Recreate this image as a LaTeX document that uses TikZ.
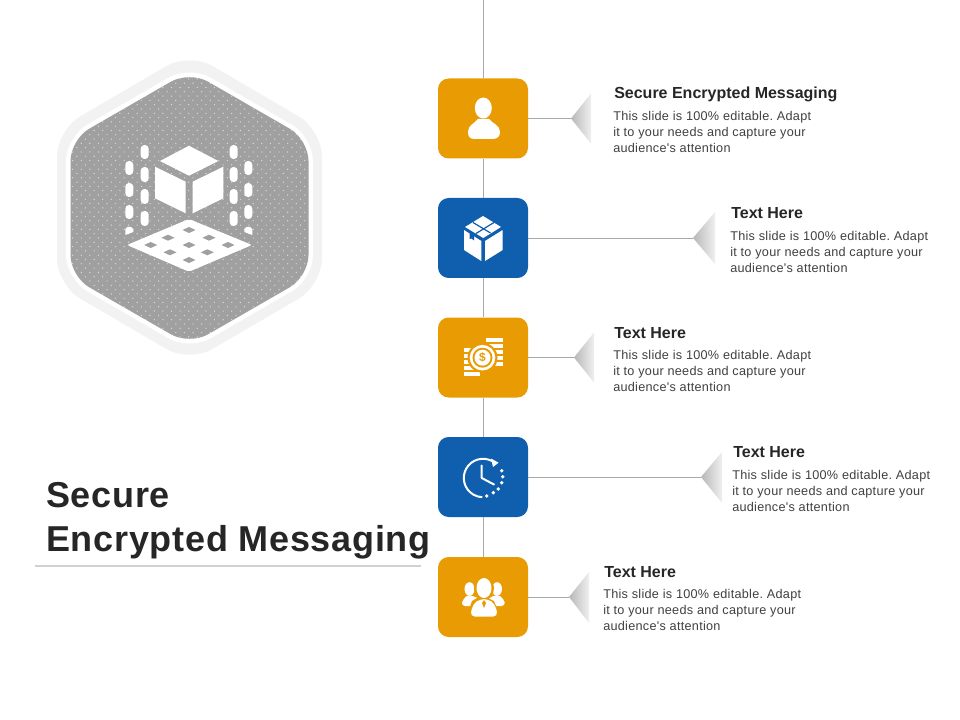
\documentclass[tikz,border=0pt]{standalone}
\usepackage{fontspec}
\usetikzlibrary{calc}
\setmainfont{Liberation Sans}[Ligatures=TeXOff]
\definecolor{orng}{HTML}{E99B04}
\definecolor{blu}{HTML}{0F5FAE}
\definecolor{hexg}{HTML}{A0A0A0}
\definecolor{ringg}{HTML}{F2F2F2}
\definecolor{linkg}{HTML}{A8A8A8}
\definecolor{txtg}{HTML}{404040}
\definecolor{headg}{HTML}{262626}
\frenchspacing
\tikzset{
  card/.style={draw=none,rounded corners=8pt,minimum width=67.5pt,minimum height=60pt,inner sep=0pt},
  link/.style={draw=linkg,line width=0.7pt},
  head/.style={anchor=base west,inner sep=0pt,font=\fontsize{12}{14}\selectfont\bfseries,text=headg},
  body/.style={anchor=north west,inner sep=0pt,align=left,font=\fontsize{9.5}{12}\selectfont\addfontfeature{LetterSpace=2.2},text=txtg},
  ttl/.style={anchor=base west,inner sep=0pt,font=\fontsize{27}{34}\selectfont\bfseries\addfontfeature{LetterSpace=2},text=headg},
  tri/.style={left color=black!28,right color=black!6,draw=none},
  ico/.style={fill=white,draw=none},
}
\begin{document}
\begin{tikzpicture}[x=0.75pt,y=-0.75pt]
\useasboundingbox (0,0) rectangle (960,720);
% hexagon
\fill[ringg,rounded corners=20pt] (189.5,52.5)--(322,130)--(322,285)--(189.5,362.5)--(57,285)--(57,130)--cycle;
\fill[white,rounded corners=18pt] (189.5,65.5)--(313,137)--(313,279)--(189.5,350.5)--(66,279)--(66,137)--cycle;
\begin{scope}
\clip[rounded corners=16pt] (189.5,71)--(308.5,139.5)--(308.5,276.5)--(189.5,345)--(70.5,276.5)--(70.5,139.5)--cycle;
\fill[hexg] (60,60) rectangle (320,350);
\foreach \j in {0,...,34}{
  \foreach \i in {0,...,30}{
    \fill[white!60!hexg] ({64+\i*8.6},{66+\j*8.6}) circle (0.7);
    \fill[white!60!hexg] ({68.3+\i*8.6},{70.3+\j*8.6}) circle (0.7);
  }
}
\end{scope}
% 3D cube
\fill[ico] (189,145.7)--(218.3,161)--(189,175.7)--(160,161)--cycle;
\fill[ico] (155,166.7)--(185.7,181.7)--(185.7,213.3)--(155,198.3)--cycle;
\fill[ico] (192.7,181.7)--(223.3,166.7)--(223.3,198.3)--(192.7,213.3)--cycle;
\fill[ico,rounded corners=1.5pt] (189,219)--(252,245)--(189,271.7)--(127,245)--cycle;
\foreach \x/\y in {189/230,168/237.7,209/237.7,150.7/245,189/245,228/245,170/252.3,207.3/252.3,189/260}{
  \fill[hexg] (\x-6.5,\y)--(\x,\y-3)--(\x+6.5,\y)--(\x,\y+3)--cycle;
}
\foreach \x in {144.7,233.7}{
  \foreach \a/\b in {145/159,167/182,189/204,211/226}{
    \fill[ico,rounded corners=2.8pt] (\x-4,\a) rectangle (\x+4,\b);
  }
}
\foreach \x in {129.3,248.3}{
  \foreach \a/\b in {161/175,183/197,205/219}{
    \fill[ico,rounded corners=2.8pt] (\x-4,\a) rectangle (\x+4,\b);
  }
}
\fill[ico] (125.3,235)--(125.3,229)--(127.5,227)--(131,227)--(133.3,229)--(133.3,232)--cycle;
\fill[ico] (252.3,235)--(252.3,229)--(250,227)--(246.5,227)--(244.3,229)--(244.3,232)--cycle;
% title
\node[ttl] (title1) at (46,507.5) {Secure};
\node[ttl] (title2) at (46,551.7) {Encrypted Messaging};
\coordinate (ruleL) at (35,566); \coordinate (ruleR) at (421,566);
\draw[black!18,line width=1.5pt] (ruleL)--(ruleR);
% cards
\coordinate (top) at (483,0);
\node[card,fill=orng] (c1) at (483,118.5) {};
\node[card,fill=blu] (c2) at (483,238) {};
\node[card,fill=orng] (c3) at (483,357.5) {};
\node[card,fill=blu] (c4) at (483,477) {};
\node[card,fill=orng] (c5) at (483,597) {};
\draw[link] (top)--(c1.north);
\draw[link] (c1)--(c2) (c2)--(c3) (c3)--(c4) (c4)--(c5);
% triangles
\coordinate (t1) at (571,118.5); \coordinate (t2) at (693,238); \coordinate (t3) at (574,357.5); \coordinate (t4) at (701,477); \coordinate (t5) at (569,597);
\shade[tri] (t1)--++(20,-25)--++(0,50)--cycle;
\shade[tri] (t2)--++(22,-26)--++(0,52)--cycle;
\shade[tri] (t3)--++(20,-25)--++(0,50)--cycle;
\shade[tri] (t4)--++(21,-25)--++(0,51)--cycle;
\shade[tri] (t5)--++(20,-25)--++(0,51)--cycle;
\draw[link] (c1.east)--(t1);
\draw[link] (c2.east)--(t2);
\draw[link] (c3.east)--(t3);
\draw[link] (c4.east)--(t4);
\draw[link] (c5.east)--(t5);
% texts
\newcommand{\bodytxt}{This slide is 100\% editable. Adapt\\it to your needs and capture your\\audience's attention}
\node[head] (h1) at (614,98.5) {Secure Encrypted Messaging};
\node[body] (b1) at (613,111.5) {\bodytxt};
\node[head] (h2) at (731,218.5) {Text Here};
\node[body] (b2) at (730,231) {\bodytxt};
\node[head] (h3) at (614,338.5) {Text Here};
\node[body] (b3) at (613,350.5) {\bodytxt};
\node[head] (h4) at (733,457.5) {Text Here};
\node[body] (b4) at (732,470.5) {\bodytxt};
\node[head] (h5) at (604,577.5) {Text Here};
\node[body] (b5) at (603,589.5) {\bodytxt};
% person
\fill[ico] (483.3,108) ellipse (8.5 and 10.5);
\fill[ico] (468,132) .. controls (468,125) and (474,124) .. (478,119) -- (489,119) .. controls (493,124) and (500,125) .. (500,132) .. controls (500,137) and (497,139) .. (492,139) -- (475,139) .. controls (470,139) and (468,137) .. (468,132) -- cycle;
% box
\fill[ico] (464,230)--(481.3,241)--(481.3,261)--(464,250)--cycle;
\fill[ico] (485,241)--(502.7,230)--(502.7,250)--(485,261)--cycle;
\fill[ico] (465,227)--(483,216)--(501,227)--(483.3,238)--cycle;
\draw[blu,line width=0.9pt] (473,222.5)--(490.5,233) (476,233.5)--(494,222.5);
\fill[blu] (469.5,231)--(474,234)--(474,240.5)--(471.5,238.5)--(469.5,239)--cycle;
% coins
\foreach \y in {338,344,350,356,362}{\fill[ico] (486.3,\y) rectangle (503,\y+4.4);}
\foreach \y in {348,354,360,366,372}{\fill[ico] (463.7,\y) rectangle (480,\y+4.4);}
\fill[orng] (482.5,357.7) circle (15);
\fill[ico] (482.5,357.7) circle (12.8);
\fill[orng] (482.5,357.7) circle (10);
\fill[ico] (482.5,357.7) circle (8);
\node[inner sep=0pt,text=orng,font=\fontsize{9}{9}\selectfont\bfseries] (dollar) at (482.5,357.7) {\$};
% clock
\draw[white,line width=1.5pt] (492.3,461.2) arc[start angle=-61,end angle=-268,radius=19.2];
\fill[white] (491,458.5)--(498.6,462.7)--(493,467)--cycle;
\foreach \x/\y in {501.7/470.7,502.7/476.7,501.7/482.7,498.3/489,493.3/492.7,486.7/496}{
  \fill[white] (\x,\y) circle (1.9);
}
\draw[white,line width=1.5pt,line cap=round,line join=round] (481.7,465.5)--(481.7,478)--(494,484.5);
% people
\fill[ico] (469.5,589) ellipse (5 and 6.8);
\fill[ico] (497,589) ellipse (5 and 6.8);
\fill[ico,rounded corners=3pt] (461,606)--(463,599)--(469,594)--(476,598)--(490,598)--(497,594)--(504,599)--(505.5,606)--(495,606)--(470,606)--cycle;
\fill[orng] (484,588) ellipse (10 and 12.5);
\fill[orng] (466,618)--(472,601)--(482,595)--(494,601)--(501,618)--cycle;
\fill[ico] (484,588) ellipse (7.5 and 10);
\fill[ico,rounded corners=3.5pt] (470,616.5)--(473,604)--(480,599)--(488,599)--(495,604)--(498,616.5)--cycle;
\fill[orng] (484,600)--(482,603)--(484,608)--(486,603)--cycle;
\end{tikzpicture}
\end{document}
